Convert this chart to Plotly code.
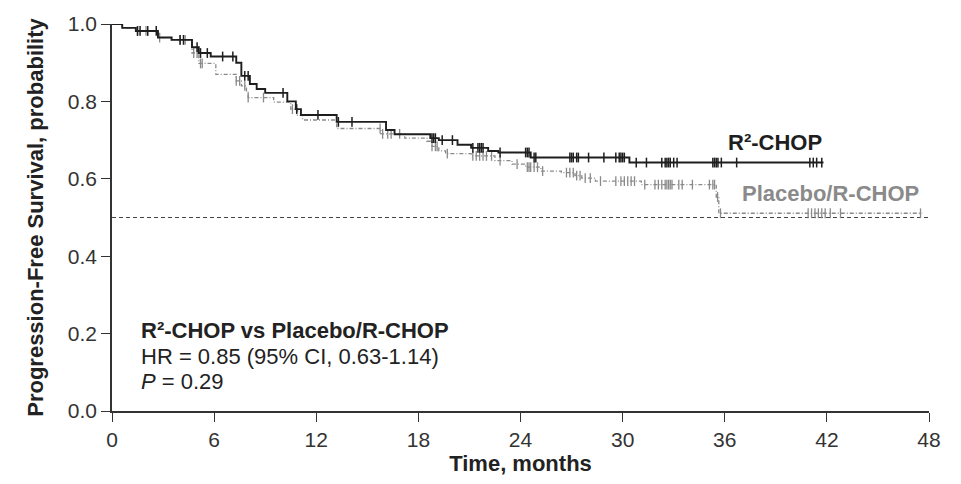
import numpy as np
import plotly.graph_objects as go

# ---- data ----
r2_t = [0, 0.6, 1.4, 2.7, 3.5, 4.7, 5.1, 5.8, 7.3, 7.6, 8.1, 8.5, 9.0, 10.3, 10.8, 11.1,
        13.2, 16.1, 16.6, 18.7, 19.2, 20.3, 21.1, 22.1, 22.7, 24.6, 30.4, 41.8]
r2_s = [1.0, 0.99, 0.982, 0.965, 0.959, 0.94, 0.925, 0.916, 0.90, 0.866, 0.845, 0.832, 0.822,
        0.80, 0.78, 0.765, 0.747, 0.726, 0.715, 0.705, 0.70, 0.688, 0.68, 0.672, 0.668, 0.655,
        0.642, 0.642]
r2_cens = [1.5, 1.65, 2.1, 2.6, 4.0, 4.2, 5.0, 5.2, 5.6, 6.5, 7.1, 7.8, 8.0, 10.05, 10.85,
           12.1, 13.3, 14.1, 18.8, 18.9, 19.0, 19.4, 20.0, 21.2, 21.5, 21.6, 21.7, 21.8, 22.8,
           24.3, 24.4, 24.5, 24.8, 24.9, 26.9, 27.0, 27.1, 27.3, 27.4, 28.0, 28.9, 29.6, 29.8,
           29.9, 30.0, 30.1, 30.8, 31.4, 32.3, 32.5, 32.6, 32.7, 32.8, 33.0, 33.2, 35.3, 35.4,
           35.5, 35.6, 35.8, 36.7, 41.0, 41.2, 41.4, 41.7]

pl_t = [0, 0.6, 1.4, 2.7, 3.5, 4.7, 5.1, 6.1, 7.3, 7.6, 7.9, 8.0, 9.5, 10.5, 10.9, 11.2,
        13.2, 15.8, 17.2, 18.5, 18.8, 19.2, 19.6, 21.1, 22.5, 23.5, 24.3, 25.2, 26.4, 27.2,
        27.6, 28.4, 31.1, 35.5, 35.65, 47.6]
pl_s = [1.0, 0.99, 0.982, 0.965, 0.959, 0.925, 0.898, 0.87, 0.853, 0.84, 0.825, 0.81, 0.798,
        0.78, 0.764, 0.752, 0.73, 0.716, 0.705, 0.697, 0.684, 0.672, 0.665, 0.659, 0.647,
        0.638, 0.63, 0.62, 0.616, 0.608, 0.602, 0.594, 0.585, 0.553, 0.511, 0.511]
pl_cens = [1.5, 2.0, 2.8, 4.0, 4.3, 4.8, 5.0, 5.2, 5.3, 7.3, 7.5, 7.8, 8.0, 8.9, 10.6, 15.75,
           15.9, 16.2, 16.4, 16.9, 18.8, 19.0, 19.1, 19.7, 21.2, 21.4, 21.6, 21.8, 22.0, 22.3,
           22.8, 23.8, 24.4, 24.5, 24.6, 24.8, 25.0, 25.3, 26.7, 26.9, 27.1, 27.3, 27.5, 27.8,
           28.1, 28.7, 29.6, 29.9, 30.1, 30.3, 30.5, 30.7, 31.3, 31.9, 32.1, 32.3, 32.5, 32.6,
           32.7, 32.8, 32.9, 33.3, 33.5, 34.1, 35.1, 35.3, 35.4, 35.58, 35.75, 40.9, 41.1,
           41.3, 41.5, 41.7, 41.9, 42.2, 42.8, 47.5]

x_ticks = [0, 6, 12, 18, 24, 30, 36, 42, 48]
y_ticks = [0.0, 0.2, 0.4, 0.6, 0.8, 1.0]
ref_level = 0.5


def step_at(ts, ss, q):
    idx = np.searchsorted(np.array(ts), np.array(q), side="right") - 1
    return [ss[i] for i in idx]


BLACK = "#1e1e1e"
GRAY = "#8a8a8a"
FONT = "Liberation Sans, Arial, Helvetica, sans-serif"

fig = go.Figure()

fig.add_trace(go.Scatter(x=[0, 48], y=[ref_level, ref_level], mode="lines",
                         line=dict(color="#444444", width=1, dash="4px,3px"),
                         hoverinfo="skip", showlegend=False, cliponaxis=False))

fig.add_trace(go.Scatter(x=pl_t, y=pl_s, mode="lines", line_shape="hv",
                         line=dict(color=GRAY, width=1.3, dash="4px,2px,1px,2px"),
                         showlegend=False, cliponaxis=False))
fig.add_trace(go.Scatter(x=pl_cens, y=step_at(pl_t, pl_s, pl_cens), mode="markers",
                         marker=dict(symbol="line-ns", size=7,
                                     line=dict(color=GRAY, width=1.3)),
                         showlegend=False, cliponaxis=False))

fig.add_trace(go.Scatter(x=r2_t, y=r2_s, mode="lines", line_shape="hv",
                         line=dict(color=BLACK, width=1.9),
                         showlegend=False, cliponaxis=False))
fig.add_trace(go.Scatter(x=r2_cens, y=step_at(r2_t, r2_s, r2_cens), mode="markers",
                         marker=dict(symbol="line-ns", size=7,
                                     line=dict(color=BLACK, width=1.5)),
                         showlegend=False, cliponaxis=False))

fig.add_annotation(x=38.95, y=0.693, xref="x", yref="y", text="<b>R²-CHOP</b>",
                   showarrow=False, font=dict(size=22, color=BLACK, family=FONT))
fig.add_annotation(x=42.2, y=0.561, xref="x", yref="y", text="<b>Placebo/R-CHOP</b>",
                   showarrow=False, font=dict(size=22, color=GRAY, family=FONT))

block = ["<b>R²-CHOP vs Placebo/R-CHOP</b>",
         "HR = 0.85 (95% CI, 0.63-1.14)",
         "<i>P</i> = 0.29"]
for txt, yv in zip(block, [0.208, 0.140, 0.076]):
    fig.add_annotation(x=1.6, y=yv, xref="x", yref="y", text=txt, xanchor="left",
                       showarrow=False, font=dict(size=22, color="#222222", family=FONT))

fig.update_layout(
    width=961, height=484,
    margin=dict(l=112, r=32, t=17, b=73),
    paper_bgcolor="white", plot_bgcolor="white",
    font=dict(family=FONT, color="#222222"),
    xaxis=dict(range=[0, 48], tickvals=x_ticks, ticktext=[str(v) for v in x_ticks],
               showgrid=False, zeroline=False, showline=True, linecolor="#333333",
               linewidth=1.5, ticks="outside", ticklen=9, tickwidth=1.3, tickcolor="#333333",
               tickfont=dict(size=21, color="#333333"),
               title=dict(text="<b>Time, months</b>", font=dict(size=22, color="#222222"),
                          standoff=4)),
    yaxis=dict(range=[0, 1], tickvals=y_ticks, ticktext=[f"{v:.1f}" for v in y_ticks],
               showgrid=False, zeroline=False, showline=True, linecolor="#333333",
               linewidth=1.5, ticks="outside", ticklen=9, tickwidth=1.3, tickcolor="#333333",
               tickfont=dict(size=21, color="#333333"),
               title=dict(text="<b>Progression-Free Survival, probability</b>",
                          font=dict(size=22, color="#222222"), standoff=18)),
)

fig.write_html("out.html")
